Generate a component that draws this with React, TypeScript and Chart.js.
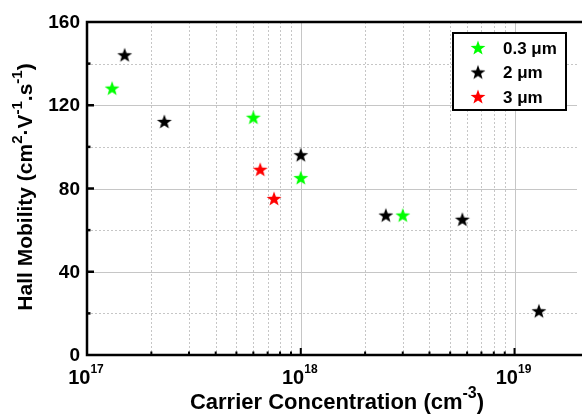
import React, { useEffect, useRef } from "react";
import { Chart, registerables } from "chart.js";
Chart.register(...registerables);

const seriesLabels = ["0.3 μm", "2 μm", "3 μm"];
const seriesColors = ["#00ff00", "#000000", "#ff0000"];
const conc03 = [1.31e17, 6.0e17, 1.0e18, 3.0e18];
const mob03 = [128, 114, 85, 67];
const conc2 = [1.5e17, 2.3e17, 1.0e18, 2.5e18, 5.7e18, 1.3e19];
const mob2 = [144, 112, 96, 67, 65, 21];
const conc3 = [6.46e17, 7.5e17];
const mob3 = [89, 75];
const xDecades = [17, 18, 19];
const yTickLabels = [0, 40, 80, 120, 160];
const yMinorTicks = [20, 60, 100, 140];

const FONT = '"Liberation Sans", Arial, Helvetica, sans-serif';

type Seg = { t: string; sup?: boolean };

function segFont(sup: boolean | undefined, size: number, ratio: number) {
  return `bold ${sup ? Math.round(size * ratio) : size}px ${FONT}`;
}

function drawRich(
  ctx: CanvasRenderingContext2D,
  segs: Seg[],
  x: number,
  y: number,
  size: number,
  ratio: number,
  raise: number
) {
  let w = 0;
  for (const s of segs) {
    ctx.font = segFont(s.sup, size, ratio);
    w += ctx.measureText(s.t).width;
  }
  let cx = x - w / 2;
  ctx.textAlign = "left";
  ctx.textBaseline = "alphabetic";
  for (const s of segs) {
    ctx.font = segFont(s.sup, size, ratio);
    ctx.fillText(s.t, cx, s.sup ? y - size * raise : y);
    cx += ctx.measureText(s.t).width;
  }
}

function makeStar(color: string) {
  const c = document.createElement("canvas");
  c.width = 18;
  c.height = 18;
  const g = c.getContext("2d")!;
  const R = 7.8, r = 3.2, cx = 9, cy = 9.3;
  g.beginPath();
  for (let i = 0; i < 10; i++) {
    const ang = -Math.PI / 2 + (i * Math.PI) / 5;
    const rad = i % 2 === 0 ? R : r;
    const px = cx + rad * Math.cos(ang);
    const py = cy + rad * Math.sin(ang);
    if (i === 0) g.moveTo(px, py);
    else g.lineTo(px, py);
  }
  g.closePath();
  g.fillStyle = color;
  g.fill();
  return c;
}

const decorPlugin = {
  id: "decor",
  beforeDatasetsDraw(chart: any) {
    const { ctx, chartArea: a, scales } = chart;
    const x = scales.x, y = scales.y;
    ctx.save();
    ctx.strokeStyle = "#c6c6c6";
    ctx.lineWidth = 1;
    for (const t of x.ticks) {
      const px = Math.round(x.getPixelForValue(t.value)) + 0.5;
      if (px <= a.left + 2) continue;
      ctx.setLineDash(t.major ? [] : [2, 2]);
      ctx.beginPath();
      ctx.moveTo(px, a.top);
      ctx.lineTo(px, a.bottom);
      ctx.stroke();
    }
    for (const t of y.ticks) {
      if (t.value <= 0 || t.value >= 160) continue;
      const py = Math.round(y.getPixelForValue(t.value)) + 0.5;
      ctx.setLineDash(t.value % 40 === 0 ? [] : [2, 2]);
      ctx.beginPath();
      ctx.moveTo(a.left, py);
      ctx.lineTo(a.right, py);
      ctx.stroke();
    }
    ctx.restore();
  },
  afterDatasetsDraw(chart: any) {
    const { ctx, chartArea: a, scales } = chart;
    const x = scales.x, y = scales.y;
    ctx.save();
    ctx.setLineDash([]);
    ctx.strokeStyle = "#000";
    ctx.lineWidth = 2;
    for (const t of x.ticks) {
      const px = x.getPixelForValue(t.value);
      if (px <= a.left + 2) continue;
      const len = t.major ? 7 : 3.5;
      ctx.beginPath();
      ctx.moveTo(px, a.bottom);
      ctx.lineTo(px, a.bottom - len);
      ctx.stroke();
    }
    ctx.lineWidth = 2.5;
    for (const t of y.ticks) {
      if (t.value <= 0 || t.value >= 160) continue;
      const py = y.getPixelForValue(t.value);
      const len = t.value % 40 === 0 ? 7 : 3.5;
      ctx.beginPath();
      ctx.moveTo(a.left, py);
      ctx.lineTo(a.left + len, py);
      ctx.stroke();
    }
    ctx.lineWidth = 2.5;
    ctx.beginPath();
    ctx.moveTo(a.right + 5, a.top);
    ctx.lineTo(a.left, a.top);
    ctx.lineTo(a.left, a.bottom);
    ctx.lineTo(a.right + 5, a.bottom);
    ctx.stroke();

    ctx.fillStyle = "#000";
    ctx.font = `bold 19px ${FONT}`;
    ctx.textAlign = "right";
    ctx.textBaseline = "middle";
    for (const v of yTickLabels) {
      ctx.fillText(String(v), a.left - 7, y.getPixelForValue(v) + 1);
    }
    for (const d of xDecades) {
      const px = x.getPixelForValue(Math.pow(10, d));
      drawRich(ctx, [{ t: "10" }, { t: String(d), sup: true }], px - 1, a.bottom + 29, 20, 0.6, 0.55);
    }
    drawRich(
      ctx,
      [{ t: "Carrier Concentration (cm" }, { t: "-3", sup: true }, { t: ")" }],
      337,
      409,
      22,
      0.72,
      0.5
    );
    ctx.save();
    ctx.translate(32, 187);
    ctx.rotate(-Math.PI / 2);
    drawRich(
      ctx,
      [
        { t: "Hall Mobility (cm" },
        { t: "2", sup: true },
        { t: "·V" },
        { t: "-1", sup: true },
        { t: ".s" },
        { t: "-1", sup: true },
        { t: ")" },
      ],
      0,
      0,
      21,
      0.7,
      0.5
    );
    ctx.restore();

    const lx = a.right - 124, ly = a.top + 11, lw = 113, lh = 77;
    ctx.fillStyle = "#fff";
    ctx.fillRect(lx, ly, lw, lh);
    ctx.lineWidth = 2;
    ctx.strokeStyle = "#000";
    ctx.strokeRect(lx, ly, lw, lh);
    chart.data.datasets.forEach((ds: any, i: number) => {
      const rowY = ly + 15 + i * 24.5;
      const img = ds.pointStyle as HTMLCanvasElement;
      ctx.drawImage(img, lx + 25 - img.width / 2, rowY - img.height / 2);
      ctx.fillStyle = "#000";
      ctx.font = `bold 17px ${FONT}`;
      ctx.textAlign = "left";
      ctx.textBaseline = "middle";
      ctx.fillText(ds.label, lx + 50, rowY + 1);
    });
    ctx.restore();
  },
};

export default function App() {
  const ref = useRef<HTMLCanvasElement | null>(null);
  useEffect(() => {
    document.body.style.margin = "0";
    const canvas = ref.current!;
    const toPts = (xs: number[], ys: number[]) => xs.map((v, i) => ({ x: v, y: ys[i] }));
    const series = [toPts(conc03, mob03), toPts(conc2, mob2), toPts(conc3, mob3)];
    const chart = new Chart(canvas, {
      type: "scatter",
      data: {
        datasets: series.map((d, i) => ({
          label: seriesLabels[i],
          data: d,
          pointStyle: makeStar(seriesColors[i]),
          backgroundColor: seriesColors[i],
          borderColor: seriesColors[i],
          showLine: false,
        })),
      },
      options: {
        responsive: false,
        animation: false,
        layout: { padding: { left: 87, top: 22, right: 0, bottom: 61 } },
        plugins: { legend: { display: false }, tooltip: { enabled: false } },
        scales: {
          x: {
            type: "logarithmic",
            min: 1e17,
            max: 1.96e19,
            grid: { display: false, drawTicks: false },
            border: { display: false },
            ticks: { display: false },
            afterBuildTicks: (scale: any) => {
              const ticks: any[] = [];
              for (const d of xDecades) {
                for (let m = 1; m <= 9; m++) {
                  const v = m * Math.pow(10, d);
                  if (v <= 1.96e19) ticks.push({ value: v, major: m === 1 });
                }
              }
              scale.ticks = ticks;
            },
          },
          y: {
            type: "linear",
            min: 0,
            max: 160,
            grid: { display: false, drawTicks: false },
            border: { display: false },
            ticks: { display: false, stepSize: 20 },
            afterBuildTicks: (scale: any) => {
              const vals = [...yTickLabels, ...yMinorTicks].sort((p, q) => p - q);
              scale.ticks = vals.map((v) => ({ value: v }));
            },
          },
        },
      },
      plugins: [decorPlugin],
    });
    return () => chart.destroy();
  }, []);
  return (
    <div style={{ position: "absolute", left: 0, top: 0, width: 582, height: 416, overflow: "hidden" }}>
      <canvas ref={ref} width={582} height={416} style={{ display: "block" }} />
    </div>
  );
}
